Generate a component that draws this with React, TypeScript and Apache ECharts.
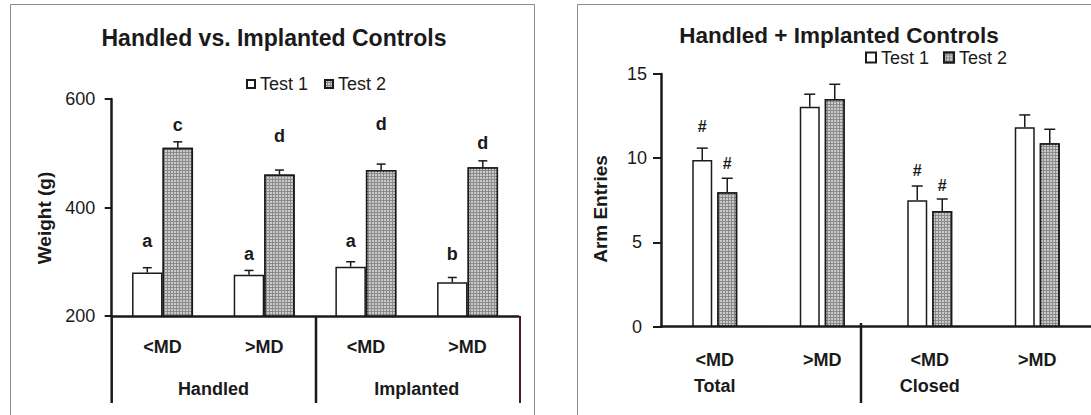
import React, { useEffect, useRef } from "react";
import * as echarts from "echarts";

// Left panel: body weight by control group and MD split
const weightCategories = ["Handled <MD", "Handled >MD", "Implanted <MD", "Implanted >MD"];
const weightTickLabels = ["<MD", ">MD", "<MD", ">MD"];
const weightGroups = ["Handled", "Implanted"];
const weightTest1 = [280, 276, 291, 262];
const weightTest1Se = [9, 8, 9, 9];
const weightTest2 = [510, 461, 469, 474];
const weightTest2Se = [11, 8, 11, 12];
const weightLetters1 = ["a", "a", "a", "b"];
const weightLetterAt1 = [338, 314, 339, 314];
const weightLetters2 = ["c", "d", "d", "d"];
const weightLetterAt2 = [552, 532, 554, 518];

// Right panel: arm entries (total / closed) for the pooled controls
const entryCategories = ["Total <MD", "Total >MD", "Closed <MD", "Closed >MD"];
const entryTickLabels = ["<MD\nTotal", ">MD", "<MD\nClosed", ">MD"];
const entryTest1 = [9.9, 13.06, 7.5, 11.84];
const entryTest1Se = [0.7, 0.74, 0.85, 0.73];
const entryTest2 = [7.98, 13.52, 6.87, 10.89];
const entryTest2Se = [0.83, 0.87, 0.71, 0.83];
const entryMarks1 = ["#", "", "#", ""];
const entryMarkAt1 = [11.88, 0, 9.3, 0];
const entryMarks2 = ["#", "", "#", ""];
const entryMarkAt2 = [9.7, 0, 8.41, 0];

const FONT = '"Liberation Sans", Arial, Helvetica, sans-serif';
const INK = "#1a1a1a";

const test1Style = { color: "#ffffff", borderColor: INK, borderWidth: 1.5 };
const test2Style = {
  color: "#8a8a8a",
  borderColor: INK,
  borderWidth: 1.5,
  decal: {
    symbol: "circle",
    symbolSize: 0.85,
    color: "#e8e8e8",
    dashArrayX: [2, 1],
    dashArrayY: [2, 1],
    rotation: 0,
  },
};

function errorBars(offsetFor: (bandW: number) => number, cap: number) {
  return (params: any, api: any) => {
    const i = api.value(0);
    const m = api.value(1);
    const s = api.value(2);
    const bandW = api.size([1, 0])[0];
    const p0 = api.coord([i, m]);
    const p1 = api.coord([i, m + s]);
    const x = p0[0] + offsetFor(bandW);
    const st = { stroke: INK, lineWidth: 1.5 };
    return {
      type: "group",
      children: [
        { type: "line", shape: { x1: x, y1: p0[1], x2: x, y2: p1[1] }, style: st },
        { type: "line", shape: { x1: x - cap / 2, y1: p1[1], x2: x + cap / 2, y2: p1[1] }, style: st },
      ],
    };
  };
}

function marks(labels: string[], offsetFor: (bandW: number) => number, size: number) {
  return (params: any, api: any) => {
    const text = labels[params.dataIndex];
    if (!text) return null;
    const i = api.value(0);
    const h = api.value(1);
    const bandW = api.size([1, 0])[0];
    const p = api.coord([i, h]);
    return {
      type: "text",
      x: p[0] + offsetFor(bandW),
      y: p[1],
      style: {
        text,
        fill: INK,
        font: `bold ${size}px ${FONT}`,
        align: "center",
        verticalAlign: "middle",
        textAlign: "center",
        textVerticalAlign: "middle",
      },
    };
  };
}

const leftOffset1 = (w: number) => -0.15 * w;
const leftOffset2 = (w: number) => 0.15 * w;
const rightOffset1 = () => -12.5;
const rightOffset2 = () => 12.5;

function buildOption() {
  const text = (t: string, x: number, y: number, size: number, extra: any = {}) => ({
    type: "text",
    x,
    y,
    silent: true,
    ...extra,
    style: {
      text: t,
      fill: INK,
      font: `bold ${size}px ${FONT}`,
      align: "center",
      verticalAlign: "middle",
      textAlign: "center",
      textVerticalAlign: "middle",
    },
  });
  const line = (x1: number, y1: number, x2: number, y2: number, stroke = INK, lineWidth = 2.5) => ({
    type: "line",
    silent: true,
    shape: { x1, y1, x2, y2 },
    style: { stroke, lineWidth },
  });

  const legendBase = {
    selectedMode: false,
    orient: "horizontal",
    icon: "rect",
    padding: 0,
    data: ["Test 1", "Test 2"],
    textStyle: { fontFamily: FONT, fontSize: 18, color: INK, lineHeight: 20 },
  };

  return {
    animation: false,
    backgroundColor: "#ffffff",
    graphic: {
      elements: [
        { type: "rect", silent: true, z: -10, shape: { x: 10.5, y: 4.5, width: 524, height: 440 }, style: { fill: "none", stroke: "#8c8c8c", lineWidth: 1 } },
        { type: "rect", silent: true, z: -10, shape: { x: 577.5, y: 4.5, width: 600, height: 440 }, style: { fill: "none", stroke: "#8c8c8c", lineWidth: 1 } },
        text("Handled vs. Implanted Controls", 274, 37.5, 23),
        text("Handled + Implanted Controls", 839, 35, 22.5),
        text("Weight (g)", 44, 218, 19, { rotation: Math.PI / 2 }),
        text("Arm Entries", 600, 209, 19, { rotation: Math.PI / 2 }),
        line(111.7, 316, 111.7, 403),
        line(316, 316, 316, 403),
        line(520, 316, 520, 403, "#4d1426", 2),
        line(861, 323, 861, 403),
      ],
    },
    legend: [
      { ...legendBase, left: 246, top: 74, itemWidth: 8, itemHeight: 8, itemGap: 16 },
      { ...legendBase, left: 865, top: 47.5, itemWidth: 10, itemHeight: 10, itemGap: 14 },
    ],
    grid: [
      { left: 111.7, top: 99, width: 406.7, height: 217 },
      { left: 661, top: 74, right: 0, height: 252.7 },
    ],
    xAxis: [
      {
        type: "category",
        gridIndex: 0,
        data: weightCategories,
        axisLine: { show: true, lineStyle: { color: INK, width: 2.5 } },
        axisTick: { show: false },
        axisLabel: {
          interval: 0,
          margin: 22,
          fontFamily: FONT,
          fontSize: 18,
          fontWeight: "bold",
          color: INK,
          formatter: (_v: string, idx: number) => weightTickLabels[idx],
        },
      },
      {
        type: "category",
        gridIndex: 0,
        position: "bottom",
        data: weightGroups,
        axisLine: { show: false },
        axisTick: { show: false },
        axisLabel: { interval: 0, margin: 64, fontFamily: FONT, fontSize: 18, fontWeight: "bold", color: INK },
      },
      {
        type: "category",
        gridIndex: 1,
        data: entryCategories,
        axisLine: { show: true, lineStyle: { color: INK, width: 2.5 } },
        axisTick: { show: false },
        axisLabel: {
          interval: 0,
          margin: 20.5,
          lineHeight: 26,
          fontFamily: FONT,
          fontSize: 18,
          fontWeight: "bold",
          color: INK,
          formatter: (_v: string, idx: number) => entryTickLabels[idx],
        },
      },
    ],
    yAxis: [
      {
        type: "value",
        gridIndex: 0,
        min: 200,
        max: 600,
        interval: 200,
        splitLine: { show: false },
        axisLine: { show: true, lineStyle: { color: INK, width: 2.5 } },
        axisTick: { show: true, length: 7, lineStyle: { color: INK, width: 2 } },
        axisLabel: { margin: 16.5, fontFamily: FONT, fontSize: 18, color: INK },
      },
      {
        type: "value",
        gridIndex: 1,
        min: 0,
        max: 15,
        interval: 5,
        splitLine: { show: false },
        axisLine: { show: true, lineStyle: { color: INK, width: 2.5 } },
        axisTick: { show: true, length: 8, lineStyle: { color: INK, width: 2 } },
        axisLabel: { margin: 24, align: "center", fontFamily: FONT, fontSize: 18, color: INK },
      },
    ],
    series: [
      { name: "Test 1", type: "bar", xAxisIndex: 0, yAxisIndex: 0, barWidth: "30%", barGap: "0%", data: weightTest1, itemStyle: test1Style },
      { name: "Test 2", type: "bar", xAxisIndex: 0, yAxisIndex: 0, barWidth: "30%", barGap: "0%", data: weightTest2, itemStyle: test2Style },
      { type: "custom", xAxisIndex: 0, yAxisIndex: 0, encode: { x: 0, y: 1 }, data: weightTest1.map((m, i) => [i, m, weightTest1Se[i]]), renderItem: errorBars(leftOffset1, 9), z: 5 },
      { type: "custom", xAxisIndex: 0, yAxisIndex: 0, encode: { x: 0, y: 1 }, data: weightTest2.map((m, i) => [i, m, weightTest2Se[i]]), renderItem: errorBars(leftOffset2, 9), z: 5 },
      { type: "custom", xAxisIndex: 0, yAxisIndex: 0, encode: { x: 0, y: 1 }, data: weightLetterAt1.map((h, i) => [i, h]), renderItem: marks(weightLetters1, leftOffset1, 18), z: 6 },
      { type: "custom", xAxisIndex: 0, yAxisIndex: 0, encode: { x: 0, y: 1 }, data: weightLetterAt2.map((h, i) => [i, h]), renderItem: marks(weightLetters2, leftOffset2, 18), z: 6 },

      { name: "Test 1", type: "bar", xAxisIndex: 2, yAxisIndex: 1, barWidth: 20, barGap: "25%", data: entryTest1, itemStyle: test1Style },
      { name: "Test 2", type: "bar", xAxisIndex: 2, yAxisIndex: 1, barWidth: 20, barGap: "25%", data: entryTest2, itemStyle: test2Style },
      { type: "custom", xAxisIndex: 2, yAxisIndex: 1, encode: { x: 0, y: 1 }, data: entryTest1.map((m, i) => [i, m, entryTest1Se[i]]), renderItem: errorBars(rightOffset1, 11), z: 5 },
      { type: "custom", xAxisIndex: 2, yAxisIndex: 1, encode: { x: 0, y: 1 }, data: entryTest2.map((m, i) => [i, m, entryTest2Se[i]]), renderItem: errorBars(rightOffset2, 11), z: 5 },
      { type: "custom", xAxisIndex: 2, yAxisIndex: 1, encode: { x: 0, y: 1 }, data: entryMarkAt1.map((h, i) => [i, h]), renderItem: marks(entryMarks1, rightOffset1, 16), z: 6 },
      { type: "custom", xAxisIndex: 2, yAxisIndex: 1, encode: { x: 0, y: 1 }, data: entryMarkAt2.map((h, i) => [i, h]), renderItem: marks(entryMarks2, rightOffset2, 16), z: 6 },
    ],
  };
}

export default function App() {
  const ref = useRef<HTMLDivElement>(null);
  useEffect(() => {
    if (!ref.current) return;
    const chart = echarts.init(ref.current, undefined, { renderer: "svg" });
    chart.setOption(buildOption() as any);
    return () => chart.dispose();
  }, []);
  return (
    <div
      ref={ref}
      style={{ position: "fixed", left: 0, top: 0, width: 1091, height: 415, background: "#fff" }}
    />
  );
}
